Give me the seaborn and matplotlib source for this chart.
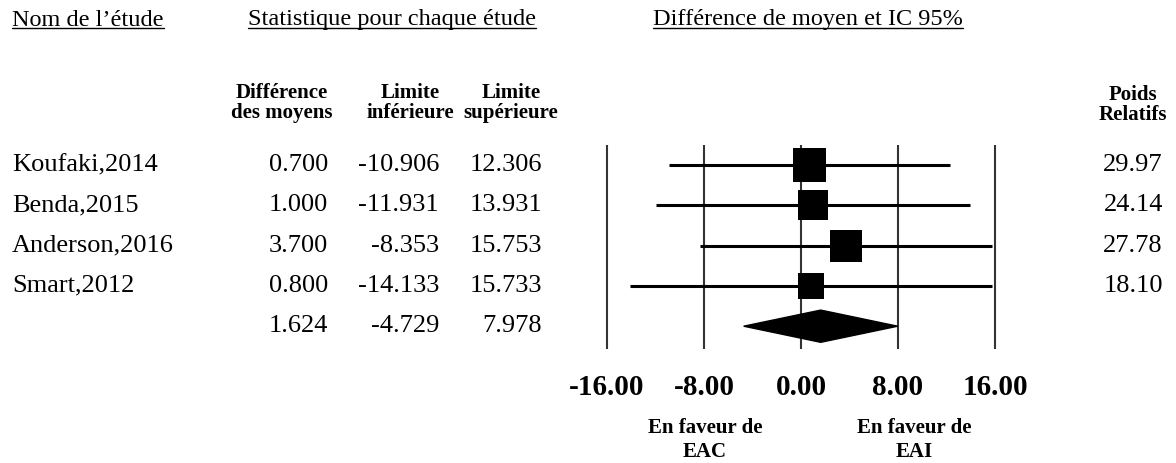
"""
Forest plot: mean difference and 95% CI per study
"""

import numpy as np
import pandas as pd
import matplotlib
matplotlib.use("Agg")
import matplotlib.pyplot as plt
import matplotlib.transforms as mtransforms
from matplotlib.lines import Line2D
import seaborn as sns

# Data
studies = ['Koufaki,2014', 'Benda,2015', 'Anderson,2016', 'Smart,2012']
mean_diff = [0.700, 1.000, 3.700, 0.800]
lower = [-10.906, -11.931, -8.353, -14.133]
upper = [12.306, 13.931, 15.753, 15.733]
weights = [29.97, 24.14, 27.78, 18.10]

summary_diff = 1.624
summary_lower = -4.729
summary_upper = 7.978

ticks = [-16, -8, 0, 8, 16]

df = pd.DataFrame({
    'study': studies,
    'diff': mean_diff,
    'lower': lower,
    'upper': upper,
    'weight': weights,
})
df['row'] = np.arange(len(df))
summary_row = len(df)

# Style
sns.set_theme(style="white")
plt.rcParams['font.family'] = ['Liberation Serif', 'DejaVu Serif']

W, H = 1176, 463
fig = plt.figure(figsize=(W / 100, H / 100), dpi=100)

# forest axes placed in pixel terms
ax = fig.add_axes([560 / W, 1 - 350 / H, 480 / W, 210 / H])
ax.set_xlim((560 - 801) / 12.125, (1040 - 801) / 12.125)
ax.set_ylim((350 - 165) / 40.3, (140 - 165) / 40.3)

# reference lines
ax.vlines(ticks, -0.5, summary_row + 0.57, color='#333333', linewidth=1.5)

# CI lines
ax.hlines(df['row'], df['lower'], df['upper'], color='black', linewidth=2.2)

# squares sized by weight
sns.scatterplot(data=df, x='diff', y='row', size='weight',
                sizes=(min(weights) * 18.9, max(weights) * 18.9),
                marker='s', color='black', linewidth=0, legend=False,
                ax=ax, zorder=3)

# summary diamond
ax.fill([summary_lower, summary_diff, summary_upper, summary_diff],
        [summary_row, summary_row - 0.4, summary_row, summary_row + 0.4],
        color='black', zorder=3)

ax.set_xticks(ticks)
ax.set_xticklabels([f'{t:.2f}' for t in ticks], fontsize=21,
                   fontweight='bold', color='black')
ax.tick_params(axis='x', length=0, pad=17)
ax.set_yticks([])
ax.set_xlabel('')
ax.set_ylabel('')
for s in ax.spines.values():
    s.set_visible(False)
ax.patch.set_alpha(0)


def fx(px):
    return px / W


def fy(py):
    return 1 - py / H


row_tr = mtransforms.blended_transform_factory(fig.transFigure, ax.transData)

# section titles
titles = []
for txt, x0 in [('Nom de l’étude', 12),
                ('Statistique pour chaque étude', 248),
                ('Différence de moyen et IC 95%', 653)]:
    titles.append(fig.text(fx(x0), fy(20), txt, fontsize=17.5,
                           ha='left', va='center', color='black'))

# column headers
hdr_kw = dict(fontsize=15, fontweight='bold', ha='center', va='center',
              linespacing=1.05, color='black')
fig.text(fx(282), fy(103), 'Différence\ndes moyens', **hdr_kw)
fig.text(fx(410), fy(103), 'Limite\ninférieure', **hdr_kw)
fig.text(fx(511), fy(103), 'Limite\nsupérieure', **hdr_kw)
fig.text(fx(1133), fy(105), 'Poids\nRelatifs', **hdr_kw)

# table rows
for _, r in df.iterrows():
    y = r['row']
    ax.text(fx(12), y, r['study'], transform=row_tr, fontsize=19,
            ha='left', va='center', color='black')
    ax.text(fx(328), y, f"{r['diff']:.3f}", transform=row_tr, fontsize=19,
            ha='right', va='center', color='black')
    ax.text(fx(439), y, f"{r['lower']:.3f}", transform=row_tr, fontsize=19,
            ha='right', va='center', color='black')
    ax.text(fx(542), y, f"{r['upper']:.3f}", transform=row_tr, fontsize=19,
            ha='right', va='center', color='black')
    ax.text(fx(1163), y, f"{r['weight']:.2f}", transform=row_tr, fontsize=19,
            ha='right', va='center', color='black')

for x0, val in [(328, summary_diff), (439, summary_lower), (542, summary_upper)]:
    ax.text(fx(x0), summary_row, f'{val:.3f}', transform=row_tr, fontsize=19,
            ha='right', va='center', color='black')

# favour labels
fav_kw = dict(fontsize=15, fontweight='bold', ha='center', va='center',
              linespacing=1.25, color='black')
fig.text(fx(705), fy(440), 'En faveur de\nEAC', **fav_kw)
fig.text(fx(914), fy(440), 'En faveur de\nEAI', **fav_kw)

# underline the section titles
fig.canvas.draw()
inv = fig.transFigure.inverted()
for t in titles:
    bb = t.get_window_extent().transformed(inv)
    y_line = bb.y0 + 2 / H
    fig.add_artist(Line2D([bb.x0, bb.x1], [y_line, y_line],
                          transform=fig.transFigure, color='black',
                          linewidth=1.0))

fig.savefig('out.png', dpi=100, facecolor='white')
plt.close(fig)
